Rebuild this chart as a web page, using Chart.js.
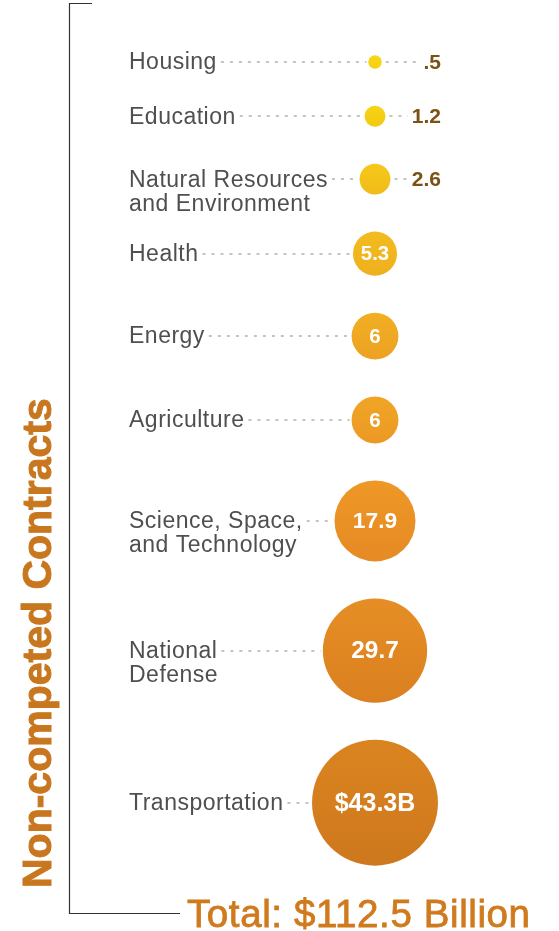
<!DOCTYPE html>
<html>
<head>
<meta charset="utf-8">
<title>Non-competed Contracts</title>
<script src="https://cdn.jsdelivr.net/npm/chart.js@4"></script>
<style>
  html, body { margin: 0; padding: 0; background: #ffffff; }
  #wrap { width: 559px; height: 931px; }
</style>
</head>
<body>
<div id="wrap"><canvas id="c" width="559" height="931"></canvas></div>
<script>
// Spending categories (multi-line names are split into lines)
const categories = [
  ['Housing'],
  ['Education'],
  ['Natural Resources', 'and Environment'],
  ['Health'],
  ['Energy'],
  ['Agriculture'],
  ['Science, Space,', 'and Technology'],
  ['National', 'Defense'],
  ['Transportation']
];

// Non-competed contract value, billions of dollars
const values = [0.5, 1.2, 2.6, 5.3, 6, 6, 17.9, 29.7, 43.3];

// Value labels shown on / beside each bubble
const valueLabels = ['.5', '1.2', '2.6', '5.3', '6', '6', '17.9', '29.7', '$43.3B'];

const axisTitle = 'Non-competed Contracts';
const total = values.reduce((a, b) => a + b, 0);
const totalLabel = 'Total: $' + total.toFixed(1) + ' Billion';

// Colour ramp, top and bottom shade of each bubble
const palette = [
  ['#F8D717', '#F5D011'],
  ['#F7D315', '#F3C912'],
  ['#F5C91A', '#F1BB18'],
  ['#F3BC1E', '#EFAF1F'],
  ['#F1AF22', '#EDA123'],
  ['#F0A524', '#EC9925'],
  ['#EE9826', '#E68A25'],
  ['#E68E25', '#DA8020'],
  ['#DA8420', '#CE781E']
];

// Bubble area proportional to value
const SCALE = 9.57;
const radiusOf = v => SCALE * Math.sqrt(v);

// Stack the bubbles top to bottom with a constant gap between edges
const GAP = 37;
const FIRST = 62;
const radii = values.map(radiusOf);
const stackPos = [];
radii.forEach((r, i) => {
  stackPos.push(i === 0 ? FIRST : stackPos[i - 1] + radii[i - 1] + r + GAP);
});

const points = values.map((v, i) => ({ x: 0, y: stackPos[i], r: radii[i] }));

const LABEL_FONT = '23px "Liberation Sans", Arial, sans-serif';
const LABEL_SPACING = '0.5px';
const LABEL_X = 129;
const LINE_H = 24;

function labelWidth(ctx, text) {
  ctx.save();
  ctx.font = LABEL_FONT;
  ctx.letterSpacing = LABEL_SPACING;
  const w = ctx.measureText(text).width;
  ctx.restore();
  return w;
}

const valueFont = (i, r) => {
  if (r < 18) return 'bold 21px "Liberation Sans", Arial, sans-serif';
  const size = Math.min(25, 17.5 + r * 0.13);
  return 'bold ' + size.toFixed(1) + 'px "Liberation Sans", Arial, sans-serif';
};

const decorations = {
  id: 'decorations',
  beforeDatasetsDraw(chart) {
    const ctx = chart.ctx;
    const meta = chart.getDatasetMeta(0);
    ctx.save();
    ctx.strokeStyle = '#c4c4c4';
    ctx.lineWidth = 2;
    ctx.setLineDash([3, 6]);
    meta.data.forEach((el, i) => {
      const r = el.options.radius;
      const w = labelWidth(ctx, categories[i][0]);
      const y = Math.round(el.y);
      ctx.beginPath();
      ctx.moveTo(LABEL_X + w + 4, y);
      ctx.lineTo(el.x - r - 2, y);
      ctx.stroke();
      if (r < 18) {
        ctx.font = valueFont(i, r);
        const vw = ctx.measureText(valueLabels[i]).width;
        const right = el.x + 66;
        ctx.beginPath();
        ctx.moveTo(el.x + r + 4, y);
        ctx.lineTo(right - vw - 4, y);
        ctx.stroke();
      }
    });
    ctx.restore();
  },
  afterDatasetsDraw(chart) {
    const ctx = chart.ctx;
    const meta = chart.getDatasetMeta(0);
    ctx.save();

    // category names
    ctx.font = LABEL_FONT;
    ctx.letterSpacing = LABEL_SPACING;
    ctx.fillStyle = '#4f4f4f';
    ctx.textAlign = 'left';
    ctx.textBaseline = 'middle';
    meta.data.forEach((el, i) => {
      categories[i].forEach((line, k) => {
        ctx.fillText(line, LABEL_X, el.y + 1 + k * LINE_H);
      });
    });
    ctx.letterSpacing = '0px';

    // values
    meta.data.forEach((el, i) => {
      const r = el.options.radius;
      ctx.font = valueFont(i, r);
      if (r < 18) {
        ctx.fillStyle = '#7A5213';
        ctx.textAlign = 'right';
        ctx.fillText(valueLabels[i], el.x + 66, el.y + 1);
      } else {
        ctx.fillStyle = '#ffffff';
        ctx.textAlign = 'center';
        ctx.fillText(valueLabels[i], el.x, el.y + 1);
      }
    });

    // bracket
    ctx.setLineDash([]);
    ctx.strokeStyle = '#333333';
    ctx.lineWidth = 1.2;
    ctx.beginPath();
    ctx.moveTo(92, 3.5);
    ctx.lineTo(69.5, 3.5);
    ctx.lineTo(69.5, 913.5);
    ctx.lineTo(180, 913.5);
    ctx.stroke();

    // vertical title
    ctx.save();
    ctx.translate(51, 888);
    ctx.rotate(-Math.PI / 2);
    ctx.font = 'bold 41px "Liberation Sans", Arial, sans-serif';
    ctx.fillStyle = '#C8771F';
    ctx.strokeStyle = '#C8771F';
    ctx.lineWidth = 1;
    ctx.textAlign = 'left';
    ctx.textBaseline = 'alphabetic';
    ctx.fillText(axisTitle, 0, 0);
    ctx.strokeText(axisTitle, 0, 0);
    ctx.restore();

    // total
    ctx.font = '38.5px "Liberation Sans", Arial, sans-serif';
    ctx.letterSpacing = '0.6px';
    ctx.fillStyle = '#D07A1E';
    ctx.strokeStyle = '#D07A1E';
    ctx.lineWidth = 0.8;
    ctx.textAlign = 'left';
    ctx.textBaseline = 'alphabetic';
    ctx.fillText(totalLabel, 187, 927);
    ctx.strokeText(totalLabel, 187, 927);

    ctx.restore();
  }
};

function bubbleFill(c) {
  const i = c.dataIndex;
  if (!c.raw || i === undefined) return palette[palette.length - 1][0];
  const y = c.chart.scales.y.getPixelForValue(c.raw.y);
  const r = c.raw.r;
  if (!isFinite(y) || !isFinite(r)) return palette[i][0];
  const g = c.chart.ctx.createLinearGradient(0, y - r, 0, y + r);
  g.addColorStop(0, palette[i][0]);
  g.addColorStop(1, palette[i][1]);
  return g;
}

new Chart(document.getElementById('c'), {
  type: 'bubble',
  data: {
    datasets: [{
      data: points,
      backgroundColor: bubbleFill,
      hoverBackgroundColor: bubbleFill,
      borderWidth: 0,
      hoverBorderWidth: 0
    }]
  },
  options: {
    responsive: false,
    devicePixelRatio: 1,
    animation: false,
    layout: { padding: 0, autoPadding: false },
    events: [],
    plugins: { legend: { display: false }, tooltip: { enabled: false } },
    scales: {
      x: { type: 'linear', display: false, min: -375, max: 184 },
      y: { type: 'linear', display: false, min: 0, max: 931, reverse: true }
    }
  },
  plugins: [decorations]
});
</script>
</body>
</html>
